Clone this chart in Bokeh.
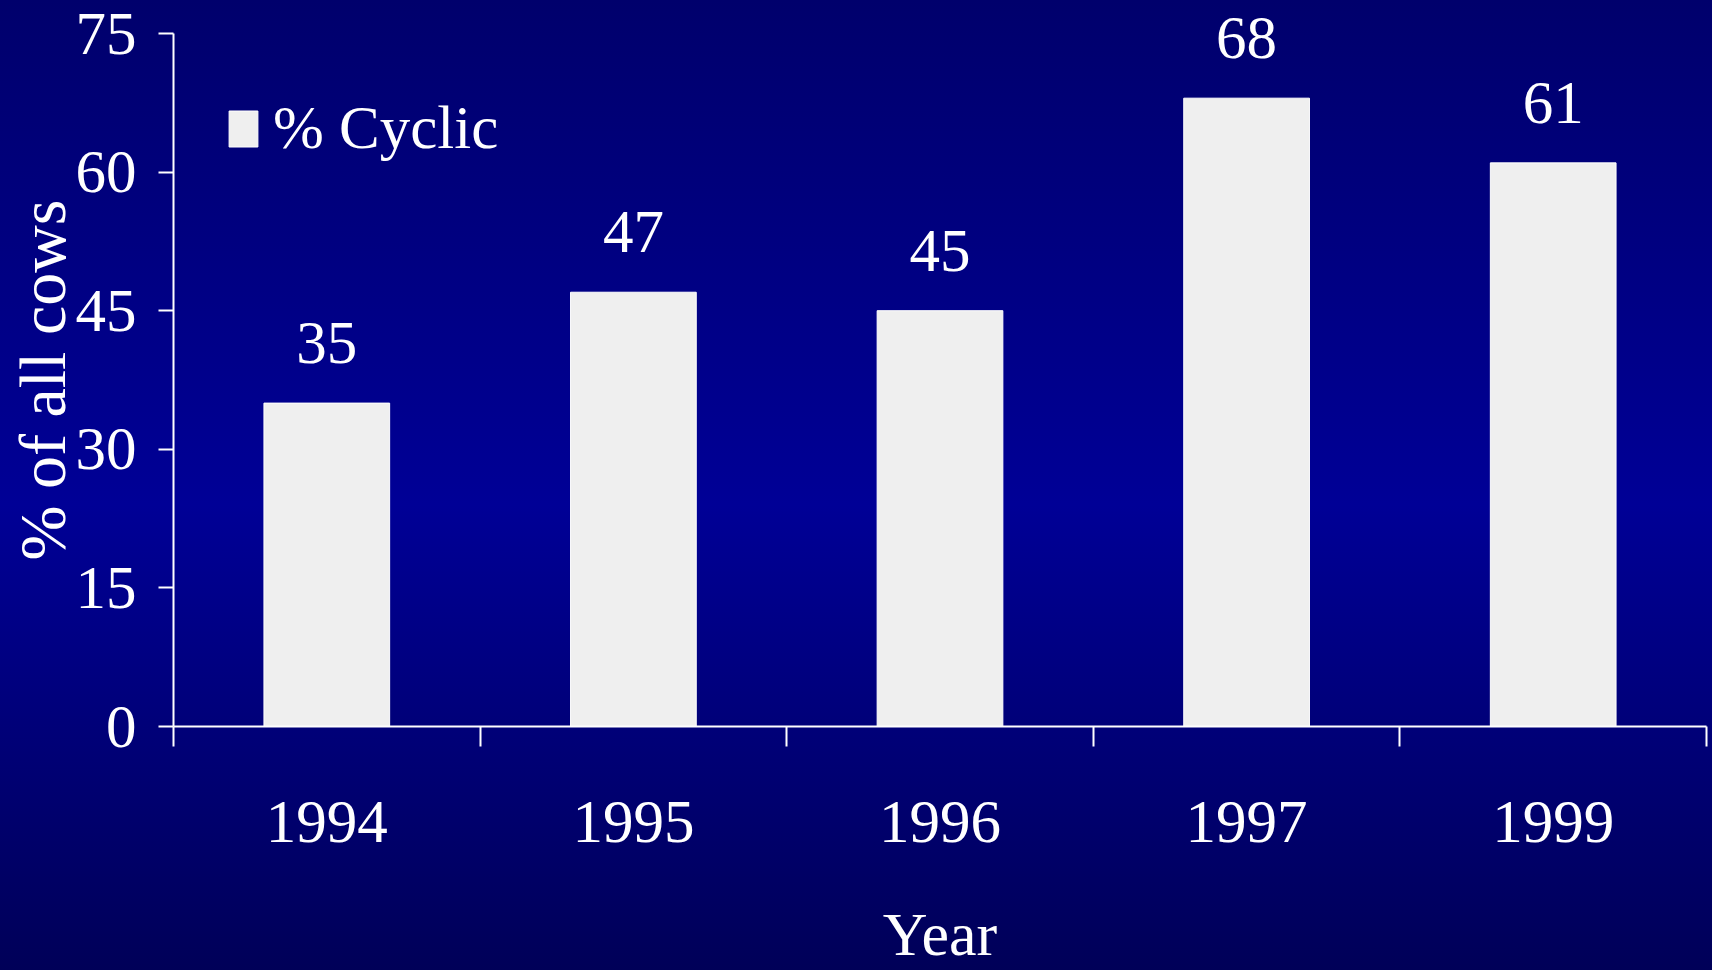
import numpy as np
from bokeh.plotting import figure
from bokeh.models import Range1d, LinearAxis, FixedTicker, ColumnDataSource, Legend, LegendItem
from bokeh.core.properties import value
from bokeh.embed import file_html
from bokeh.resources import INLINE

# ---- data ----
years = ["1994", "1995", "1996", "1997", "1999"]
cyclic = [35, 47, 45, 68, 61]
y_ticks = [0, 15, 30, 45, 60, 75]
series_name = "% Cyclic"
x_title = "Year"
y_title = "% of all cows"

FONT = "Liberation Serif"
FS = "61px"
y_max = y_ticks[-1]
y_end = y_max * 726 / 693

pos = np.arange(len(years)) + 0.5
bounds = list(range(len(years) + 1))
src = ColumnDataSource(dict(x=pos, top=cyclic, label=[str(v) for v in cyclic]))

p = figure(width=1712, height=970, output_backend="svg", toolbar_location=None,
           x_range=Range1d(0, len(years)), y_range=Range1d(0, y_end),
           min_border_left=173, min_border_right=6, min_border_top=0, min_border_bottom=244,
           x_axis_type=None, y_axis_type=None)
p.background_fill_color = None
p.border_fill_color = None
p.outline_line_color = None
p.styles = {"background": "linear-gradient(to bottom, #00006c 0%, #000096 52%, #000058 100%)"}

xaxis = LinearAxis(
    ticker=FixedTicker(ticks=list(pos), minor_ticks=bounds),
    major_label_overrides={float(x): y for x, y in zip(pos, years)},
    axis_line_color="white", axis_line_width=2,
    major_tick_line_color=None, major_tick_out=0, major_tick_in=0,
    minor_tick_line_color="white", minor_tick_line_width=2, minor_tick_out=20, minor_tick_in=0,
    major_label_text_font=FONT, major_label_text_font_size=FS, major_label_text_color="white",
    major_label_standoff=55,
    axis_label=x_title, axis_label_text_font=FONT, axis_label_text_font_size="62px",
    axis_label_text_color="white", axis_label_text_font_style="normal", axis_label_standoff=55,
)
p.add_layout(xaxis, "below")

yaxis = LinearAxis(
    ticker=FixedTicker(ticks=y_ticks), bounds=(0, y_max),
    axis_line_color="white", axis_line_width=2,
    major_tick_line_color="white", major_tick_line_width=2, major_tick_out=15, major_tick_in=0,
    minor_tick_line_color=None,
    major_label_text_font=FONT, major_label_text_font_size=FS, major_label_text_color="white",
    major_label_standoff=22,
    axis_label=y_title + "\u00a0\u00a0", axis_label_text_font=FONT, axis_label_text_font_size="66px",
    axis_label_text_color="white", axis_label_text_font_style="normal", axis_label_standoff=-6,
)
p.add_layout(yaxis, "left")

bars = p.vbar(x="x", top="top", width=0.41, source=src,
              fill_color="#efefef", line_color="white", line_width=1)

p.text(x="x", y="top", text="label", source=src, text_font=value(FONT), text_font_size=FS,
       text_color="white", text_align="center", text_baseline="alphabetic", y_offset=-60)

legend = Legend(items=[LegendItem(label=series_name, renderers=[bars])], location=(52, 563),
                padding=0, margin=0, border_line_color=None, background_fill_alpha=0,
                glyph_width=36, glyph_height=45, label_standoff=12,
                label_text_font=FONT, label_text_font_size=FS, label_text_color="white")
p.add_layout(legend)

open("out.html", "w").write(file_html(p, INLINE))
